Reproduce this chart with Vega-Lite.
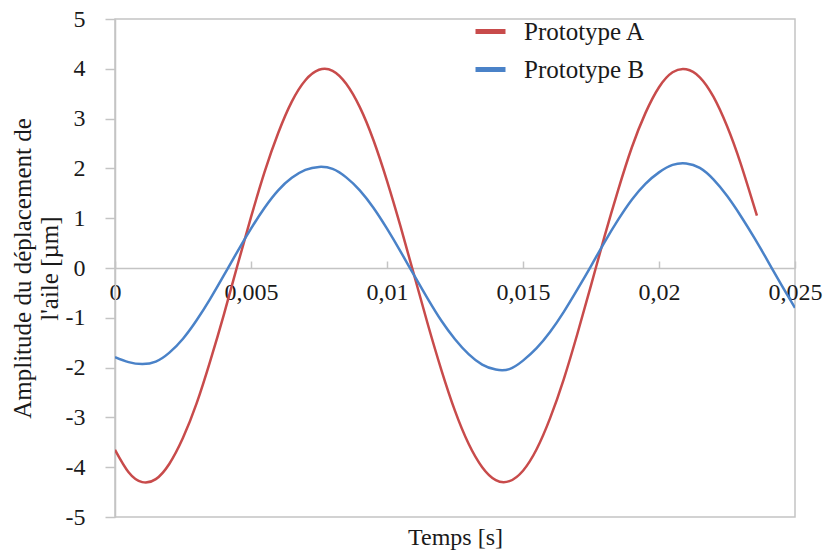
{
  "$schema": "https://vega.github.io/schema/vega-lite/v6.json",
  "autosize": "none",
  "width": 680,
  "height": 498,
  "padding": {"left": 115, "top": 19, "right": 28, "bottom": 39},
  "background": "white",
  "config": {
    "font": "Liberation Serif",
    "view": {"stroke": "#c4c4c4", "strokeWidth": 1.5},
    "axis": {"labelFont": "Liberation Serif", "titleFont": "Liberation Serif", "labelColor": "#1a1a1a", "titleColor": "#1a1a1a", "titleFontWeight": "normal", "domainColor": "#c4c4c4", "tickColor": "#c4c4c4", "domainWidth": 1.5, "tickWidth": 1.5, "grid": false}
  },
  "datasets": {
    "curves": [
      {"t": 0, "v": -3.65, "s": "Prototype A"},
      {"t": 0.0005, "v": -4.10, "s": "Prototype A"},
      {"t": 0.001, "v": -4.30, "s": "Prototype A"},
      {"t": 0.0015, "v": -4.24, "s": "Prototype A"},
      {"t": 0.002, "v": -3.93, "s": "Prototype A"},
      {"t": 0.0025, "v": -3.41, "s": "Prototype A"},
      {"t": 0.003, "v": -2.72, "s": "Prototype A"},
      {"t": 0.0035, "v": -1.87, "s": "Prototype A"},
      {"t": 0.004, "v": -0.94, "s": "Prototype A"},
      {"t": 0.0045, "v": 0.05, "s": "Prototype A"},
      {"t": 0.005, "v": 1.02, "s": "Prototype A"},
      {"t": 0.0055, "v": 1.93, "s": "Prototype A"},
      {"t": 0.006, "v": 2.71, "s": "Prototype A"},
      {"t": 0.0065, "v": 3.34, "s": "Prototype A"},
      {"t": 0.007, "v": 3.77, "s": "Prototype A"},
      {"t": 0.0075, "v": 3.98, "s": "Prototype A"},
      {"t": 0.008, "v": 3.96, "s": "Prototype A"},
      {"t": 0.0085, "v": 3.70, "s": "Prototype A"},
      {"t": 0.009, "v": 3.23, "s": "Prototype A"},
      {"t": 0.0095, "v": 2.57, "s": "Prototype A"},
      {"t": 0.01, "v": 1.75, "s": "Prototype A"},
      {"t": 0.0105, "v": 0.83, "s": "Prototype A"},
      {"t": 0.011, "v": -0.15, "s": "Prototype A"},
      {"t": 0.0115, "v": -1.13, "s": "Prototype A"},
      {"t": 0.012, "v": -2.05, "s": "Prototype A"},
      {"t": 0.0125, "v": -2.87, "s": "Prototype A"},
      {"t": 0.013, "v": -3.53, "s": "Prototype A"},
      {"t": 0.0135, "v": -4.00, "s": "Prototype A"},
      {"t": 0.014, "v": -4.26, "s": "Prototype A"},
      {"t": 0.0145, "v": -4.28, "s": "Prototype A"},
      {"t": 0.015, "v": -4.07, "s": "Prototype A"},
      {"t": 0.0155, "v": -3.64, "s": "Prototype A"},
      {"t": 0.016, "v": -3.01, "s": "Prototype A"},
      {"t": 0.0165, "v": -2.23, "s": "Prototype A"},
      {"t": 0.017, "v": -1.32, "s": "Prototype A"},
      {"t": 0.0175, "v": -0.35, "s": "Prototype A"},
      {"t": 0.018, "v": 0.64, "s": "Prototype A"},
      {"t": 0.0185, "v": 1.57, "s": "Prototype A"},
      {"t": 0.019, "v": 2.42, "s": "Prototype A"},
      {"t": 0.0195, "v": 3.11, "s": "Prototype A"},
      {"t": 0.02, "v": 3.63, "s": "Prototype A"},
      {"t": 0.0205, "v": 3.93, "s": "Prototype A"},
      {"t": 0.021, "v": 3.99, "s": "Prototype A"},
      {"t": 0.0215, "v": 3.83, "s": "Prototype A"},
      {"t": 0.022, "v": 3.44, "s": "Prototype A"},
      {"t": 0.0225, "v": 2.85, "s": "Prototype A"},
      {"t": 0.023, "v": 2.10, "s": "Prototype A"},
      {"t": 0.0236, "v": 1.05, "s": "Prototype A"},
      {"t": 0, "v": -1.79, "s": "Prototype B"},
      {"t": 0.0005, "v": -1.89, "s": "Prototype B"},
      {"t": 0.001, "v": -1.93, "s": "Prototype B"},
      {"t": 0.0015, "v": -1.88, "s": "Prototype B"},
      {"t": 0.002, "v": -1.70, "s": "Prototype B"},
      {"t": 0.0025, "v": -1.42, "s": "Prototype B"},
      {"t": 0.003, "v": -1.05, "s": "Prototype B"},
      {"t": 0.0035, "v": -0.62, "s": "Prototype B"},
      {"t": 0.004, "v": -0.15, "s": "Prototype B"},
      {"t": 0.0045, "v": 0.33, "s": "Prototype B"},
      {"t": 0.005, "v": 0.79, "s": "Prototype B"},
      {"t": 0.0055, "v": 1.21, "s": "Prototype B"},
      {"t": 0.006, "v": 1.56, "s": "Prototype B"},
      {"t": 0.0065, "v": 1.81, "s": "Prototype B"},
      {"t": 0.007, "v": 1.97, "s": "Prototype B"},
      {"t": 0.0075, "v": 2.03, "s": "Prototype B"},
      {"t": 0.008, "v": 1.99, "s": "Prototype B"},
      {"t": 0.0085, "v": 1.82, "s": "Prototype B"},
      {"t": 0.009, "v": 1.56, "s": "Prototype B"},
      {"t": 0.0095, "v": 1.21, "s": "Prototype B"},
      {"t": 0.01, "v": 0.79, "s": "Prototype B"},
      {"t": 0.0105, "v": 0.33, "s": "Prototype B"},
      {"t": 0.011, "v": -0.15, "s": "Prototype B"},
      {"t": 0.0115, "v": -0.62, "s": "Prototype B"},
      {"t": 0.012, "v": -1.06, "s": "Prototype B"},
      {"t": 0.0125, "v": -1.43, "s": "Prototype B"},
      {"t": 0.013, "v": -1.73, "s": "Prototype B"},
      {"t": 0.0135, "v": -1.94, "s": "Prototype B"},
      {"t": 0.014, "v": -2.04, "s": "Prototype B"},
      {"t": 0.0145, "v": -2.03, "s": "Prototype B"},
      {"t": 0.015, "v": -1.86, "s": "Prototype B"},
      {"t": 0.0155, "v": -1.61, "s": "Prototype B"},
      {"t": 0.016, "v": -1.28, "s": "Prototype B"},
      {"t": 0.0165, "v": -0.88, "s": "Prototype B"},
      {"t": 0.017, "v": -0.43, "s": "Prototype B"},
      {"t": 0.0175, "v": 0.04, "s": "Prototype B"},
      {"t": 0.018, "v": 0.52, "s": "Prototype B"},
      {"t": 0.0185, "v": 0.97, "s": "Prototype B"},
      {"t": 0.019, "v": 1.37, "s": "Prototype B"},
      {"t": 0.0195, "v": 1.69, "s": "Prototype B"},
      {"t": 0.02, "v": 1.92, "s": "Prototype B"},
      {"t": 0.0205, "v": 2.07, "s": "Prototype B"},
      {"t": 0.021, "v": 2.10, "s": "Prototype B"},
      {"t": 0.0215, "v": 2.01, "s": "Prototype B"},
      {"t": 0.022, "v": 1.78, "s": "Prototype B"},
      {"t": 0.0225, "v": 1.45, "s": "Prototype B"},
      {"t": 0.023, "v": 1.05, "s": "Prototype B"},
      {"t": 0.0235, "v": 0.61, "s": "Prototype B"},
      {"t": 0.024, "v": 0.14, "s": "Prototype B"},
      {"t": 0.0245, "v": -0.34, "s": "Prototype B"},
      {"t": 0.025, "v": -0.80, "s": "Prototype B"}
    ]
  },
  "data": {"name": "curves"},
  "mark": {"type": "line", "strokeWidth": 2.5, "interpolate": "natural", "clip": true},
  "encoding": {
    "x": {
      "field": "t", "type": "quantitative",
      "scale": {"domain": [0, 0.025], "nice": false},
      "axis": {
        "values": [0, 0.005, 0.01, 0.015, 0.02, 0.025],
        "labelExpr": "replace(toString(datum.value), '.', ',')",
        "offset": -249,
        "tickSize": -7,
        "labelPadding": 19,
        "labelFontSize": 24,
        "labelFlush": false,
        "labelOverlap": false,
        "title": "Temps [s]",
        "titleFontSize": 24,
        "titleY": 257,
        "titleBaseline": "top"
      }
    },
    "y": {
      "field": "v", "type": "quantitative",
      "scale": {"domain": [-5, 5], "nice": false},
      "axis": {
        "values": [-5, -4, -3, -2, -1, 0, 1, 2, 3, 4, 5],
        "labelExpr": "toString(datum.value)",
        "tickSize": 10,
        "labelPadding": 20,
        "labelFontSize": 24,
        "labelFlush": false,
        "labelOverlap": false,
        "title": ["Amplitude du déplacement de", "l'aile [µm]"],
        "titleFontSize": 25,
        "titleLineHeight": 27,
        "titlePadding": 3
      }
    },
    "color": {
      "field": "s", "type": "nominal",
      "scale": {"domain": ["Prototype A", "Prototype B"], "range": ["#c84b4b", "#4a82c8"]},
      "legend": {
        "title": null,
        "orient": "none",
        "legendX": 358,
        "legendY": -5,
        "symbolType": "stroke",
        "symbolSize": 900,
        "symbolStrokeWidth": 5,
        "labelFont": "Liberation Serif",
        "labelFontSize": 25,
        "labelColor": "#1a1a1a",
        "labelOffset": 16,
        "rowPadding": 7,
        "labelLimit": 300
      }
    }
  }
}
